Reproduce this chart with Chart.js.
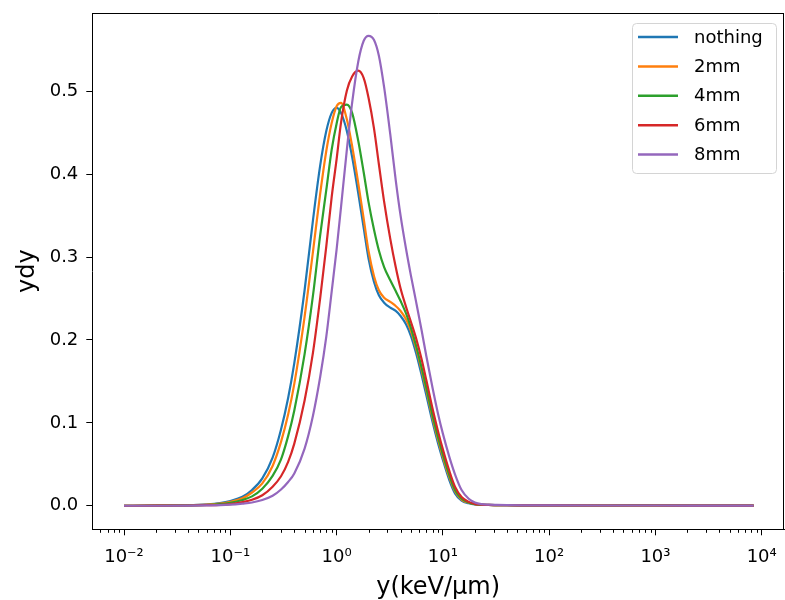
<!DOCTYPE html>
<html>
<head>
<meta charset="utf-8">
<script src="https://cdn.jsdelivr.net/npm/chart.js@4.4.1/dist/chart.umd.min.js"></script>
<style>
  html, body { margin: 0; padding: 0; background: #fff; }
</style>
</head>
<body>
<canvas id="c" width="785" height="600"></canvas>
<script>
// lineal energy grid (keV/um)
const xValues = [0.01, 0.02, 0.04, 0.06, 0.08, 0.1, 0.13, 0.16, 0.2, 0.25,
  0.3, 0.35, 0.4, 0.5, 0.6, 0.7, 0.8, 0.9, 1.0, 1.1,
  1.25, 1.4, 1.6, 1.8, 2.0, 2.25, 2.5, 2.8, 3.2, 3.6,
  4.0, 4.5, 5.0, 5.6, 6.3, 7.0, 8.0, 9.0, 10, 11.5,
  13, 15, 17.5, 20, 23, 27, 32, 40, 60, 100,
  300, 600, 1000, 3000, 8400];

const nothing = [0, 0.0001, 0.0006, 0.0017, 0.0033, 0.0058, 0.0108, 0.019, 0.033, 0.058,
  0.092, 0.13, 0.172, 0.26, 0.345, 0.41, 0.452, 0.474, 0.48, 0.474,
  0.452, 0.421, 0.377, 0.335, 0.298, 0.27, 0.254, 0.245, 0.239, 0.235,
  0.229, 0.219, 0.205, 0.184, 0.158, 0.133, 0.101, 0.0755, 0.0553, 0.031,
  0.015, 0.0063, 0.003, 0.0016, 0.0011, 0.0009, 0.0008, 0.0006, 0.0005, 0.0004,
  0.0003, 0.0008, 0.0006, 0.0002, 0.0001];

const mm2 = [0, 0.0001, 0.0005, 0.0013, 0.0026, 0.0047, 0.009, 0.016, 0.027, 0.048,
  0.077, 0.11, 0.147, 0.228, 0.307, 0.376, 0.428, 0.462, 0.482, 0.486,
  0.466, 0.434, 0.389, 0.346, 0.307, 0.277, 0.26, 0.251, 0.246, 0.241,
  0.235, 0.225, 0.211, 0.19, 0.164, 0.139, 0.106, 0.08, 0.059, 0.0345,
  0.0175, 0.0075, 0.0036, 0.0019, 0.0012, 0.0009, 0.0008, 0.0006, 0.0005, 0.0004,
  0.0003, 0.0003, 0.0003, 0.0002, 0.0001];

const mm4 = [0, 0.0001, 0.0004, 0.0009, 0.0019, 0.0036, 0.007, 0.0113, 0.0205, 0.036,
  0.056, 0.084, 0.115, 0.183, 0.254, 0.326, 0.381, 0.43, 0.461, 0.481,
  0.484, 0.474, 0.44, 0.402, 0.366, 0.333, 0.308, 0.288, 0.272, 0.259,
  0.247, 0.232, 0.215, 0.193, 0.167, 0.142, 0.109, 0.083, 0.062, 0.037,
  0.019, 0.0085, 0.004, 0.002, 0.0013, 0.001, 0.0008, 0.0006, 0.0005, 0.0004,
  0.0003, 0.0003, 0.0003, 0.0002, 0.0001];

const mm6 = [0, 0.00005, 0.0003, 0.0007, 0.0011, 0.002, 0.0044, 0.0072, 0.0127, 0.023,
  0.0356, 0.053, 0.075, 0.127, 0.185, 0.25, 0.313, 0.373, 0.418, 0.462,
  0.501, 0.518, 0.525, 0.516, 0.492, 0.455, 0.412, 0.367, 0.322, 0.288,
  0.262, 0.24, 0.222, 0.202, 0.177, 0.151, 0.117, 0.09, 0.068, 0.042,
  0.023, 0.0105, 0.0047, 0.0023, 0.0014, 0.001, 0.0008, 0.0006, 0.0005, 0.0004,
  0.0003, 0.0003, 0.0003, 0.0002, 0.0001];

const mm8 = [0, 0, 0.0001, 0.0004, 0.0007, 0.0013, 0.0026, 0.0039, 0.0069, 0.012,
  0.0196, 0.0287, 0.039, 0.069, 0.109, 0.155, 0.204, 0.259, 0.309, 0.36,
  0.43, 0.486, 0.536, 0.561, 0.567, 0.562, 0.543, 0.505, 0.448, 0.393,
  0.35, 0.31, 0.278, 0.246, 0.212, 0.18, 0.142, 0.111, 0.087, 0.059,
  0.038, 0.019, 0.0085, 0.004, 0.002, 0.0013, 0.001, 0.0007, 0.0005, 0.0004,
  0.0003, 0.0003, 0.0003, 0.0002, 0.0001];

const seriesLabels = ['nothing', '2mm', '4mm', '6mm', '8mm'];
const seriesValues = [nothing, mm2, mm4, mm6, mm8];
const colors = ['#1f77b4', '#ff7f0e', '#2ca02c', '#d62728', '#9467bd'];

const xMajorTicks = [0.01, 0.1, 1, 10, 100, 1000, 10000];
const yTicks = [0, 0.1, 0.2, 0.3, 0.4, 0.5];

const FONT = "'DejaVu Sans', sans-serif";
const SUP = { '-': '\u207B', '0': '\u2070', '1': '\u00B9', '2': '\u00B2', '3': '\u00B3', '4': '\u2074' };

function powLabel(v) {
  const e = String(Math.round(Math.log10(v)));
  return '10' + e.split('').map(ch => SUP[ch]).join('');
}

// minor log ticks + top/right spines
const framePlugin = {
  id: 'frame',
  afterDraw(chart) {
    const { ctx, chartArea: a, scales: { x } } = chart;
    ctx.save();
    ctx.strokeStyle = '#000';
    ctx.lineWidth = 1;
    ctx.beginPath();
    for (let n = -3; n <= 4; n++) {
      for (let k = 2; k <= 9; k++) {
        const v = k * Math.pow(10, n);
        if (v < x.min || v > x.max) continue;
        const px = Math.round(x.getPixelForValue(v)) + 0.5;
        ctx.moveTo(px, a.bottom);
        ctx.lineTo(px, a.bottom + 3.5);
      }
    }
    ctx.moveTo(a.left, a.top + 0.5);
    ctx.lineTo(a.right, a.top + 0.5);
    ctx.moveTo(a.right - 0.5, a.top);
    ctx.lineTo(a.right - 0.5, a.bottom);
    ctx.stroke();
    ctx.restore();
  }
};

// legend inside the axes, upper right
const legendPlugin = {
  id: 'innerLegend',
  afterDraw(chart) {
    const { ctx } = chart;
    const bx = 632, by = 23, bw = 144, bh = 150, r = 4;
    ctx.save();
    ctx.beginPath();
    ctx.roundRect(bx + 0.5, by + 0.5, bw, bh, r);
    ctx.fillStyle = 'rgba(255,255,255,0.8)';
    ctx.fill();
    ctx.strokeStyle = '#d4d4d4';
    ctx.lineWidth = 1;
    ctx.stroke();
    ctx.font = '18px ' + FONT;
    ctx.textBaseline = 'middle';
    ctx.fillStyle = '#000';
    chart.data.datasets.forEach((ds, i) => {
      const cy = 37 + i * 29.4;
      ctx.beginPath();
      ctx.strokeStyle = ds.borderColor;
      ctx.lineWidth = 2.5;
      ctx.moveTo(638, cy);
      ctx.lineTo(678, cy);
      ctx.stroke();
      ctx.fillText(ds.label, 694, cy + 1);
    });
    ctx.restore();
  }
};

new Chart(document.getElementById('c'), {
  type: 'line',
  data: {
    labels: xValues,
    datasets: seriesLabels.map((label, i) => ({
      label,
      data: xValues.map((xv, j) => ({ x: xv, y: seriesValues[i][j] })),
      borderColor: colors[i],
      borderWidth: 2.2,
      pointRadius: 0,
      fill: false,
      cubicInterpolationMode: 'monotone',
      order: seriesLabels.length - i
    }))
  },
  options: {
    responsive: false,
    animation: false,
    layout: { padding: { top: 13, right: 1, bottom: 0, left: 0 } },
    plugins: { legend: { display: false }, tooltip: { enabled: false } },
    scales: {
      x: {
        type: 'logarithmic',
        min: 0.00503,
        max: 16200,
        afterBuildTicks: s => { s.ticks = xMajorTicks.map(v => ({ value: v, major: true })); },
        afterFit: s => { s.height = 70.7; s.paddingLeft = 0; s.paddingRight = 0; },
        grid: { drawOnChartArea: false, drawTicks: true, tickLength: 6, tickColor: '#000' },
        border: { display: true, color: '#000', width: 1 },
        ticks: {
          color: '#000', padding: 11, maxRotation: 0, autoSkip: false,
          font: { family: FONT, size: 18 },
          callback: v => powLabel(v)
        },
        title: {
          display: true, text: 'y(keV/\u03BCm)', color: '#000',
          font: { family: FONT, size: 24, lineHeight: 1 },
          padding: { top: 0, bottom: 0 }
        }
      },
      y: {
        min: -0.0284,
        max: 0.5945,
        afterBuildTicks: s => { s.ticks = yTicks.map(v => ({ value: v })); },
        afterFit: s => { s.width = 92.3; s.paddingTop = 0; s.paddingBottom = 0; },
        grid: { drawOnChartArea: false, drawTicks: true, tickLength: 6, tickColor: '#000' },
        border: { display: true, color: '#000', width: 1 },
        ticks: {
          color: '#000', padding: 8,
          font: { family: FONT, size: 18 },
          callback: v => v.toFixed(1)
        },
        title: {
          display: true, text: 'ydy', color: '#000',
          font: { family: FONT, size: 24, lineHeight: 1 },
          padding: { top: 16, bottom: 0 }
        }
      }
    }
  },
  plugins: [framePlugin, legendPlugin]
});
</script>
</body>
</html>
